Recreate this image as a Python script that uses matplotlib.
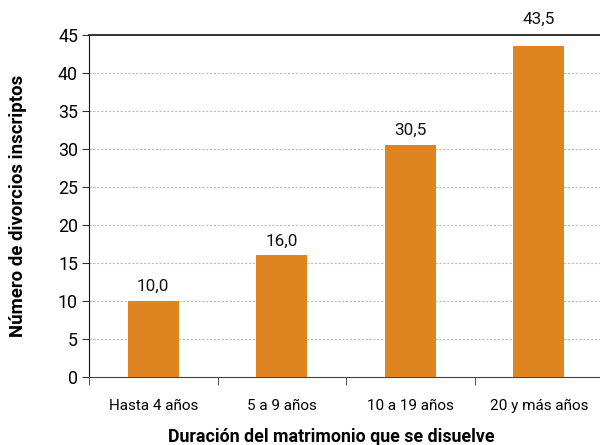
import matplotlib
matplotlib.use("Agg")
import matplotlib.pyplot as plt

categories = ["Hasta 4 años", "5 a 9 años", "10 a 19 años", "20 y más años"]
values = [10.0, 16.0, 30.5, 43.5]
value_labels = ["10,0", "16,0", "30,5", "43,5"]
yticks = [0, 5, 10, 15, 20, 25, 30, 35, 40, 45]

plt.rcParams['font.family'] = ["Roboto", "DejaVu Sans"]

fig = plt.figure(figsize=(6, 4.45), dpi=100)
ax = fig.add_axes([89/600, 1-377/445, 514/600, (377-35)/445])

x = list(range(len(categories)))
ax.bar(x, values, width=0.4, color="#DE8420", zorder=3)
ymax = yticks[-1]
for xi, v, lab in zip(x, values, value_labels):
    ty = v + 1.9
    if ty > ymax - 1:
        ty = ymax + 2
    ax.text(xi, ty, lab, ha="center", va="center", fontsize=12.3, color="#111111", clip_on=False)

ax.set_xlim(-0.5, 3.5)
ax.set_ylim(0, ymax)
ax.set_yticks(yticks)
ax.set_yticklabels([str(t) for t in yticks], fontsize=12.8)
ax.set_xticks(x)
ax.set_xticklabels(categories, fontsize=11)
ax.set_xticks([-0.5, 0.5, 1.5, 2.5, 3.5], minor=True)
ax.tick_params(axis="x", which="major", length=0, pad=16)
ax.tick_params(axis="x", which="minor", length=6, color="#333333")
ax.tick_params(axis="y", length=5, color="#333333", pad=3)

for t in yticks[1:-1]:
    ax.axhline(t, color="#bbbbbb", lw=0.8, ls=(0, (2, 1.5)), zorder=1)
ax.axhline(ymax, color="#111111", lw=1.2, zorder=2, clip_on=False)

ax.spines["right"].set_visible(False)
ax.spines["top"].set_visible(False)
ax.spines["left"].set_color("#111111")
ax.spines["bottom"].set_color("#444444")

ax.set_ylabel("Número de divorcios inscriptos", fontsize=13.4, fontweight="bold")
ax.yaxis.set_label_coords((27-89)/514, 0.5)
ax.set_xlabel("Duración del matrimonio que se disuelve", fontsize=12.8, fontweight="bold")
ax.xaxis.set_label_coords((331-89)/514, (377-428)/342)

fig.savefig("out.png", dpi=100)
